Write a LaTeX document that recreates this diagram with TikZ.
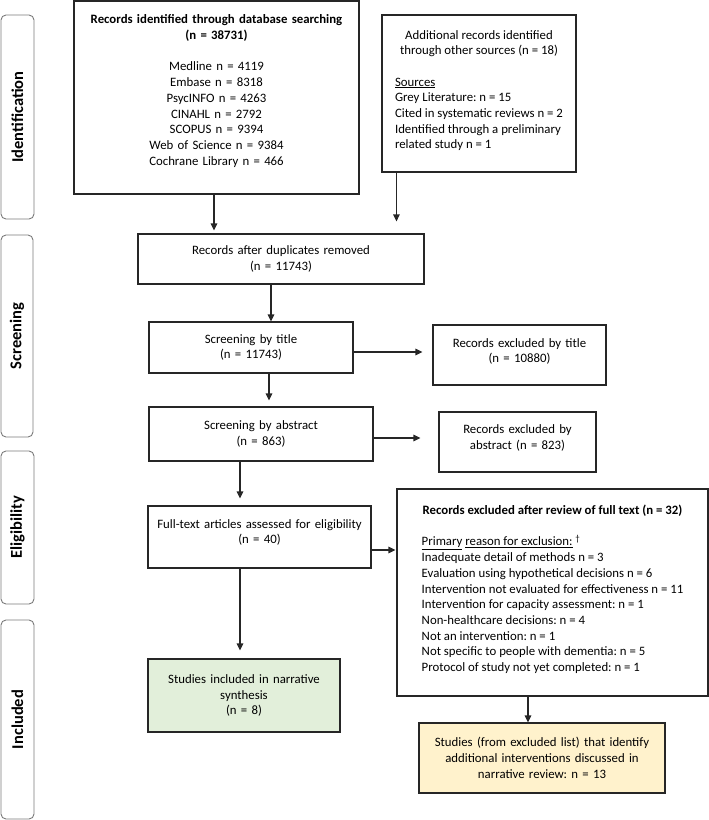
\documentclass[tikz,border=0pt]{standalone}
\usepackage{fontspec}
\setmainfont{Carlito}
\usetikzlibrary{arrows.meta}
\frenchspacing
\newcommand\lowstrut[1]{\rule[-#1]{0pt}{#1}}
\newcommand\sidefont{\fontsize{16.5}{18}\selectfont\bfseries}
\newcommand\ctr[1]{\multicolumn{1}{@{}c@{}}{#1}}
\definecolor{linec}{HTML}{262626}
\definecolor{sidec}{HTML}{7A7A7A}
\definecolor{greenfill}{HTML}{E2EFDA}
\definecolor{yellowfill}{HTML}{FFF2CC}
\begin{document}
\begin{tikzpicture}[x=1pt,y=-1pt,
  every node/.style={font=\fontsize{12.8}{15.7}\selectfont, text=black},
  box/.style={draw=linec, line width=1.1pt, inner sep=0pt, align=center},
  lbox/.style={draw=linec, line width=1.1pt, inner sep=0pt},
  side/.style={draw=sidec, line width=0.9pt, rounded corners=5pt, inner sep=0pt},
  arr/.style={draw=linec, line width=1.1pt, -{Triangle[length=7pt,width=6.5pt]}}
]
\useasboundingbox (0,0) rectangle (709,820);

% phase labels
\node[side, minimum width=33, minimum height=204] (sid1) at (17.5,117) {\rotatebox{90}{\sidefont Identification}};
\node[side, minimum width=32, minimum height=202] (sid2) at (17,336) {\rotatebox{90}{\sidefont Screening}};
\node[side, minimum width=33, minimum height=153] (sid3) at (17.5,527.5) {\rotatebox{90}{\sidefont Eligibility}};
\node[side, minimum width=33, minimum height=199] (sid4) at (17.5,719.5) {\rotatebox{90}{\sidefont Included}};

% boxes
\node[box, minimum width=285, minimum height=193, text width=272] (db) at (216.5,97.5)
 {\textbf{Records identified through database searching}\\ \textbf{(n = 38731)}\\[15.7pt]
  Medline n = 4119\\ Embase n = 8318\\ PsycINFO n = 4263\\ CINAHL n = 2792\\
  SCOPUS n = 9394\\ Web of Science n = 9384\\ Cochrane Library n = 466\lowstrut{15pt}};

\node[lbox, minimum width=194, minimum height=157] (oth) at (479,93.5)
 {\begin{tabular}{@{}l@{}}
  \ctr{Additional records identified}\\
  \ctr{through other sources (n = 18)}\\[15.7pt]
  \underline{Sources}\\
  Grey Literature: n = 15\\
  Cited in systematic reviews n = 2\\
  Identified through a preliminary\\
  related study n = 1\lowstrut{10pt}
  \end{tabular}};

\node[box, minimum width=286, minimum height=50, text width=270] (dup) at (281,259)
 {Records after duplicates removed\\ (n = 11743)};

\node[box, minimum width=204, minimum height=51, text width=190] (title) at (251,347.5)
 {Screening by title\\ (n = 11743)};

\node[box, minimum width=173, minimum height=60, text width=160] (extitle) at (519.5,355)
 {Records excluded by title\\ (n = 10880)\lowstrut{9pt}};

\node[box, minimum width=224, minimum height=54, text width=210] (abs) at (261,434)
 {Screening by abstract\\ (n = 863)};

\node[box, minimum width=157, minimum height=60, text width=145] (exabs) at (517.5,442)
 {Records excluded by\\ abstract (n = 823)\lowstrut{10pt}};

\node[box, minimum width=223, minimum height=62, text width=212] (full) at (259.5,537)
 {Full-text articles assessed for eligibility\\ (n = 40)\lowstrut{11pt}};

\node[lbox, minimum width=311, minimum height=207] (excl) at (552.5,592.5)
 {\begin{tabular}{@{}l@{}}
  \ctr{\textbf{Records excluded after review of full text (n = 32)}}\\[15.7pt]
  \underline{Primary} \underline{reason for exclusion:} \textsuperscript{\textdagger}\\
  Inadequate detail of methods n = 3\\
  Evaluation using hypothetical decisions n = 6\\
  Intervention not evaluated for effectiveness n = 11\\
  Intervention for capacity assessment: n = 1\\
  Non-healthcare decisions: n = 4\\
  Not an intervention: n = 1\\
  Not specific to people with dementia: n = 5\\
  Protocol of study not yet completed: n = 1\lowstrut{10pt}
  \end{tabular}};

\node[box, fill=greenfill, minimum width=192, minimum height=73, text width=180] (incl) at (244,695.5)
 {Studies included in narrative\\ synthesis\\ (n = 8)};

\node[box, fill=yellowfill, minimum width=246, minimum height=70, text width=236] (yel) at (542,758)
 {Studies (from excluded list) that identify\\ additional interventions discussed in\\ narrative review: n = 13};

% connectors
\draw[arr, shorten >=3pt] ([xshift=-2.5pt]db.south) -- ([xshift=-2.5pt]db.south |- dup.north);
\draw[arr, shorten >=12pt] ([xshift=15pt]oth.south west) -- ([xshift=15pt]oth.south west |- dup.north);
\draw[arr] ([xshift=-10pt]dup.south) -- ([xshift=-10pt]dup.south |- title.north);
\draw[arr, shorten >=10pt] ([yshift=-4.5pt]title.east) -- ([yshift=-4.5pt]title.east -| extitle.west);
\draw[arr, shorten >=6pt] ([xshift=18pt]title.south) -- ([xshift=18pt]title.south |- abs.north);
\draw[arr, shorten >=18pt] ([yshift=-4pt]abs.east) -- ([yshift=-4pt]abs.east -| exabs.west);
\draw[arr, shorten >=7pt] ([xshift=-21pt]abs.south) -- ([xshift=-21pt]abs.south |- full.north);
\draw[arr, shorten >=1pt] ([yshift=-13pt]full.east) -- ([yshift=-13pt]full.east -| excl.west);
\draw[arr, shorten >=8pt] ([xshift=-19.5pt]full.south) -- ([xshift=-19.5pt]full.south |- incl.north);
\draw[arr] ([xshift=-24.5pt]excl.south) -- ([xshift=-24.5pt]excl.south |- yel.north);
\end{tikzpicture}
\end{document}
